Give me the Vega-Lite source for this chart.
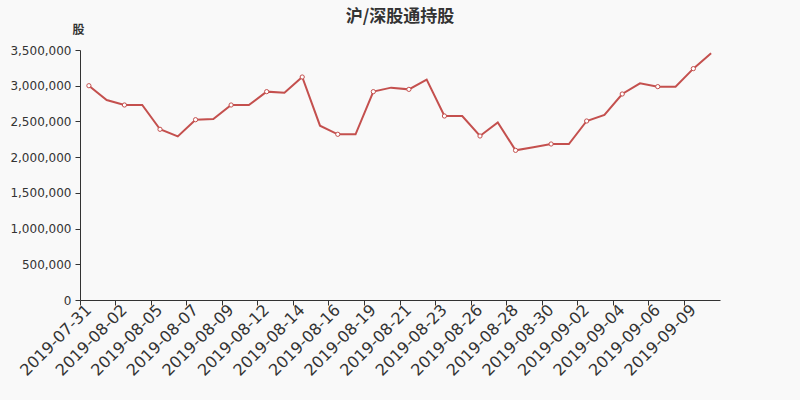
{
  "$schema": "https://vega.github.io/schema/vega-lite/v6.json",
  "width": 640,
  "height": 250,
  "autosize": "none",
  "padding": {"left": 80, "top": 50, "right": 80, "bottom": 100},
  "background": "#f9f9f9",
  "title": {
    "text": "沪/深股通持股",
    "anchor": "middle",
    "frame": "group",
    "baseline": "bottom",
    "offset": -20,
    "font": "Noto Sans CJK SC",
    "fontSize": 17,
    "fontWeight": "bold",
    "color": "#333333"
  },
  "config": {
    "view": {"stroke": null},
    "axis": {"labelFont": "DejaVu Sans", "labelColor": "#333333", "domainColor": "#333333", "tickColor": "#333333", "grid": false}
  },
  "data": {
    "values": [
      {"date": "2019-07-31", "value": 3000000},
      {"date": "2019-08-01", "value": 2800000},
      {"date": "2019-08-02", "value": 2730000},
      {"date": "2019-08-04", "value": 2730000},
      {"date": "2019-08-05", "value": 2390000},
      {"date": "2019-08-06", "value": 2290000},
      {"date": "2019-08-07", "value": 2524000},
      {"date": "2019-08-08", "value": 2534000},
      {"date": "2019-08-09", "value": 2730000},
      {"date": "2019-08-11", "value": 2730000},
      {"date": "2019-08-12", "value": 2917000},
      {"date": "2019-08-13", "value": 2903000},
      {"date": "2019-08-14", "value": 3122000},
      {"date": "2019-08-15", "value": 2440000},
      {"date": "2019-08-16", "value": 2320000},
      {"date": "2019-08-18", "value": 2320000},
      {"date": "2019-08-19", "value": 2917000},
      {"date": "2019-08-20", "value": 2973000},
      {"date": "2019-08-21", "value": 2949000},
      {"date": "2019-08-22", "value": 3085000},
      {"date": "2019-08-23", "value": 2576000},
      {"date": "2019-08-25", "value": 2576000},
      {"date": "2019-08-26", "value": 2296000},
      {"date": "2019-08-27", "value": 2487000},
      {"date": "2019-08-28", "value": 2095000},
      {"date": "2019-08-29", "value": 2140000},
      {"date": "2019-08-30", "value": 2184000},
      {"date": "2019-09-01", "value": 2184000},
      {"date": "2019-09-02", "value": 2506000},
      {"date": "2019-09-03", "value": 2590000},
      {"date": "2019-09-04", "value": 2884000},
      {"date": "2019-09-05", "value": 3033000},
      {"date": "2019-09-06", "value": 2987000},
      {"date": "2019-09-08", "value": 2987000},
      {"date": "2019-09-09", "value": 3239000},
      {"date": "2019-09-10", "value": 3453000}
    ]
  },
  "encoding": {
    "x": {
      "field": "date",
      "type": "ordinal",
      "bandPosition": 0.5,
      "scale": {"type": "band", "paddingInner": 0, "paddingOuter": 0},
      "axis": {
        "title": null,
        "bandPosition": 0,
        "values": ["2019-07-31", "2019-08-02", "2019-08-05", "2019-08-07", "2019-08-09", "2019-08-12", "2019-08-14", "2019-08-16", "2019-08-19", "2019-08-21", "2019-08-23", "2019-08-26", "2019-08-28", "2019-08-30", "2019-09-02", "2019-09-04", "2019-09-06", "2019-09-09"],
        "labelAngle": -45,
        "labelAlign": "right",
        "labelBaseline": "middle",
        "labelFontSize": 16,
        "labelPadding": 2,
        "tickSize": 5,
        "labelOverlap": false
      }
    },
    "y": {
      "field": "value",
      "type": "quantitative",
      "scale": {"domain": [0, 3500000], "nice": false, "zero": true},
      "axis": {
        "title": "股",
        "titleFont": "Noto Sans CJK SC",
        "titleFontSize": 12,
        "titleFontWeight": "bold",
        "titleColor": "#333333",
        "titleAngle": 0,
        "titleX": -2,
        "titleY": -21,
        "titleAlign": "center",
        "titleBaseline": "middle",
        "values": [0, 500000, 1000000, 1500000, 2000000, 2500000, 3000000, 3500000],
        "format": ",.0f",
        "formatType": "number",
        "labelFontSize": 12,
        "labelPadding": 4,
        "tickSize": 5
      }
    }
  },
  "layer": [
    {
      "mark": {"type": "line", "color": "#c4504e", "strokeWidth": 2}
    },
    {
      "transform": [{"filter": {"field": "date", "oneOf": ["2019-07-31", "2019-08-02", "2019-08-05", "2019-08-07", "2019-08-09", "2019-08-12", "2019-08-14", "2019-08-16", "2019-08-19", "2019-08-21", "2019-08-23", "2019-08-26", "2019-08-28", "2019-08-30", "2019-09-02", "2019-09-04", "2019-09-06", "2019-09-09"]}}],
      "mark": {"type": "point", "shape": "circle", "filled": true, "fill": "#ffffff", "stroke": "#c4504e", "strokeWidth": 1, "size": 18, "opacity": 1}
    }
  ]
}
